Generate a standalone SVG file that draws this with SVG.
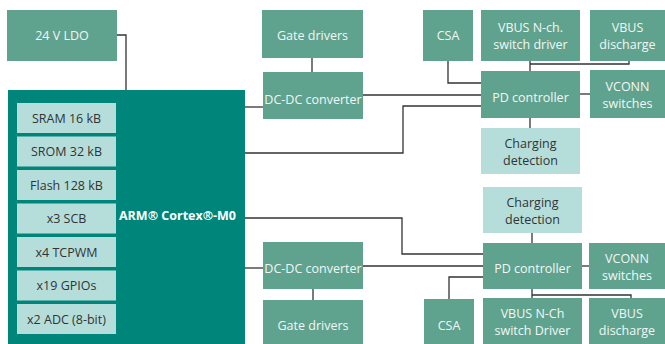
<svg xmlns="http://www.w3.org/2000/svg" width="665" height="344" viewBox="0 0 665 344">
<style>
.g{fill:#5fa38e}
.l{fill:#b5dedb}
.chip{fill:#00857a}
text{font-family:"Open Sans","Noto Sans",sans-serif;font-size:12.5px;text-anchor:middle}
.tw{fill:#f2f7f5}
.td{fill:#333333}
.c{fill:none;stroke:#333;stroke-width:1.3}
</style>
<rect width="665" height="344" fill="#ffffff"/>
<g id="connectors">
<polyline class="c" points="117,35 126,35 126,90"/>
<line class="c" x1="312" y1="58" x2="312" y2="72"/>
<line class="c" x1="245" y1="107" x2="263" y2="107"/>
<line class="c" x1="363" y1="95" x2="481" y2="95"/>
<polyline class="c" points="245,153 403,153 403,106 481,106"/>
<polyline class="c" points="448,61 448,83 481,83"/>
<line class="c" x1="530" y1="61" x2="530" y2="71"/>
<polyline class="c" points="530,64 629,64 629,61"/>
<line class="c" x1="580" y1="94" x2="590" y2="94"/>
<line class="c" x1="530" y1="118" x2="530" y2="128"/>
<line class="c" x1="532" y1="233" x2="532" y2="243"/>
<polyline class="c" points="245,218 402,218 402,254 483,254"/>
<line class="c" x1="245" y1="268" x2="263" y2="268"/>
<line class="c" x1="363" y1="266" x2="483" y2="266"/>
<line class="c" x1="582" y1="266" x2="589" y2="266"/>
<polyline class="c" points="483,277 449,277 449,299"/>
<line class="c" x1="313" y1="289" x2="313" y2="300"/>
<line class="c" x1="532" y1="289" x2="532" y2="298"/>
<polyline class="c" points="532,295 631,295 631,298"/>
</g>
<g id="ldo"><rect class="g" x="7" y="10" width="110" height="51"/><text class="tw" x="62" y="40">24 V LDO</text></g>
<g id="chip"><rect class="chip" x="8" y="90" width="237" height="254"/>
<text x="119" y="220" textLength="117" lengthAdjust="spacingAndGlyphs" style="font-weight:bold;font-size:13px;fill:#ffffff;text-anchor:start">ARM® Cortex®-M0</text></g>
<g id="sram"><rect class="l" x="17" y="103" width="99" height="30"/><text class="td" x="66.5" y="122.5">SRAM 16 kB</text></g>
<g id="srom"><rect class="l" x="17" y="136.5" width="99" height="30"/><text class="td" x="66.5" y="156">SROM 32 kB</text></g>
<g id="flash"><rect class="l" x="17" y="170" width="99" height="30"/><text class="td" x="66.5" y="189.5">Flash 128 kB</text></g>
<g id="scb"><rect class="l" x="17" y="203.5" width="99" height="30"/><text class="td" x="66.5" y="223">x3 SCB</text></g>
<g id="tcpwm"><rect class="l" x="17" y="237" width="99" height="30"/><text class="td" x="66.5" y="256.5">x4 TCPWM</text></g>
<g id="gpio"><rect class="l" x="17" y="270.5" width="99" height="30"/><text class="td" x="66.5" y="290">x19 GPIOs</text></g>
<g id="adc"><rect class="l" x="17" y="304" width="99" height="30"/><text class="td" x="66.5" y="323.5">x2 ADC (8-bit)</text></g>
<g id="gate1"><rect class="g" x="262" y="10" width="101" height="48"/><text class="tw" x="312.5" y="40">Gate drivers</text></g>
<g id="dcdc1"><rect class="g" x="263" y="72" width="100" height="47"/><text class="tw" x="313" y="104">DC-DC converter</text></g>
<g id="csa1"><rect class="g" x="423" y="10" width="50" height="51"/><text class="tw" x="448" y="40">CSA</text></g>
<g id="vbusn1"><rect class="g" x="481" y="10" width="99" height="51"/><text class="tw" x="530.5" y="32">VBUS N-ch.</text><text class="tw" x="530.5" y="49">switch driver</text></g>
<g id="vbusd1"><rect class="g" x="590" y="10" width="75" height="51"/><text class="tw" x="627.5" y="32">VBUS</text><text class="tw" x="627.5" y="49">discharge</text></g>
<g id="pd1"><rect class="g" x="481" y="71" width="99" height="47"/><text class="tw" x="530.5" y="102">PD controller</text></g>
<g id="vconn1"><rect class="g" x="590" y="70" width="75" height="48"/><text class="tw" x="627.5" y="91">VCONN</text><text class="tw" x="627.5" y="108">switches</text></g>
<g id="chg1"><rect class="l" x="481" y="128" width="99" height="46"/><text class="td" x="530.5" y="148">Charging</text><text class="td" x="530.5" y="165">detection</text></g>
<g id="chg2"><rect class="l" x="483" y="187" width="99" height="46"/><text class="td" x="532.5" y="207">Charging</text><text class="td" x="532.5" y="224">detection</text></g>
<g id="pd2"><rect class="g" x="483" y="243" width="99" height="46"/><text class="tw" x="532.5" y="273">PD controller</text></g>
<g id="vconn2"><rect class="g" x="589" y="243" width="76" height="46"/><text class="tw" x="627" y="263">VCONN</text><text class="tw" x="627" y="280">switches</text></g>
<g id="dcdc2"><rect class="g" x="263" y="242" width="100" height="47"/><text class="tw" x="313" y="273">DC-DC converter</text></g>
<g id="gate2"><rect class="g" x="263" y="300" width="100" height="44"/><text class="tw" x="313" y="330">Gate drivers</text></g>
<g id="csa2"><rect class="g" x="424" y="299" width="50" height="45"/><text class="tw" x="449" y="330">CSA</text></g>
<g id="vbusn2"><rect class="g" x="483" y="298" width="99" height="46"/><text class="tw" x="532.5" y="318">VBUS N-Ch</text><text class="tw" x="532.5" y="335">switch Driver</text></g>
<g id="vbusd2"><rect class="g" x="589" y="298" width="76" height="46"/><text class="tw" x="627" y="318">VBUS</text><text class="tw" x="627" y="335">discharge</text></g>
</svg>
